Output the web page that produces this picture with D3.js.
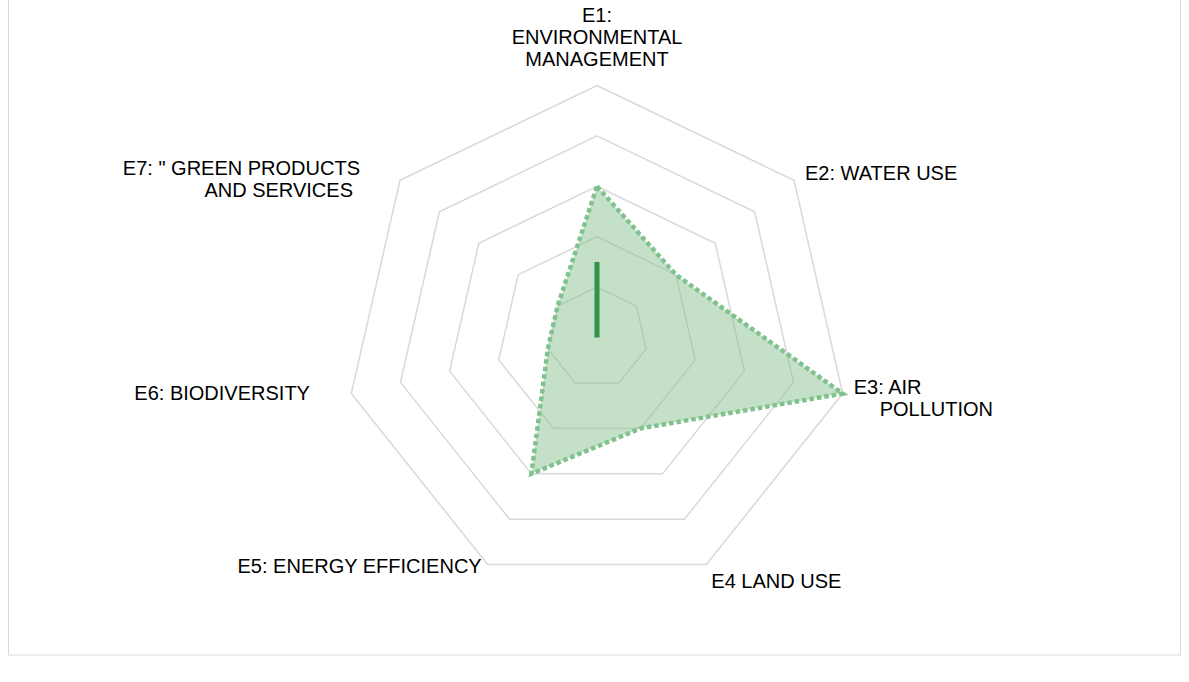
<!DOCTYPE html>
<html>
<head>
<meta charset="utf-8">
<script src="https://cdn.jsdelivr.net/npm/d3@7"></script>
<style>
  html, body { margin: 0; padding: 0; background: #fff; }
  svg { display: block; font-family: "Liberation Sans", Arial, sans-serif; }
</style>
</head>
<body>
<div class="svg-container"></div>
<script>
// categories (one entry per wrapped row of the label)
const categories = ["E1", "E2", "E3", "E4", "E5", "E6", "E7"];
const categoryLabels = [
  ["E1:", "ENVIRONMENTAL", "MANAGEMENT"],
  ["E2: WATER USE"],
  ["E3: AIR", "POLLUTION"],
  ["E4 LAND USE"],
  ["E5: ENERGY EFFICIENCY"],
  ["E6: BIODIVERSITY"],
  ["E7: \" GREEN PRODUCTS", "AND SERVICES"]
];
// series values
const scoreValues = [3, 2, 5, 2, 3, 1, 1];
const markerValues = [1.5, 0, 0, 0, 0, 0, 0];
// ring ticks
const ringTicks = [1, 2, 3, 4, 5];

const width = 1189;
const height = 682;
const center = { x: 597, y: 337.5 };
const radius = 252;
const lineGap = 22;

// label placement relative to the outer vertex: anchor, dx, dy, per-line x shift
const labelLayout = [
  { anchor: "middle", dx: 0, dy: -64, lines: [0, 0, 0] },
  { anchor: "start", dx: 11, dy: 0, lines: [0] },
  { anchor: "start", dx: 11, dy: 0, lines: [0, 26] },
  { anchor: "start", dx: 5, dy: 23, lines: [0] },
  { anchor: "end", dx: -6, dy: 8, lines: [0] },
  { anchor: "start", dx: -217, dy: 6, lines: [0] },
  { anchor: "end", dx: -40, dy: -5, lines: [0, -7] }
];

const svg = d3
  .select(".svg-container")
  .append("svg")
  .attr("width", width)
  .attr("height", height);

// chart border
svg
  .append("rect")
  .attr("x", 8.5)
  .attr("y", -10)
  .attr("width", 1172)
  .attr("height", 665)
  .attr("fill", "none")
  .attr("stroke", "#d9d9d9")
  .attr("stroke-width", 1);

const g = svg
  .append("g")
  .attr("transform", `translate(${center.x},${center.y})`);

const rScale = d3.scaleLinear().domain([0, 5]).range([0, radius]);
const angleScale = d3
  .scaleLinear()
  .domain([0, categories.length])
  .range([0, 2 * Math.PI]);

const radarLine = d3
  .lineRadial()
  .angle((d, i) => angleScale(i))
  .radius((d) => rScale(d))
  .curve(d3.curveLinearClosed);

// grid rings
g.selectAll(".ring")
  .data(ringTicks)
  .enter()
  .append("path")
  .attr("class", "ring")
  .attr("fill", "none")
  .attr("stroke", "#d9d9d9")
  .attr("stroke-width", 1.5)
  .attr("d", (t) => radarLine(categories.map(() => t)));

// main series: filled area with dotted border
g.append("path")
  .datum(scoreValues)
  .attr("fill", "#8bc191")
  .attr("fill-opacity", 0.5)
  .attr("stroke", "#80c28e")
  .attr("stroke-width", 4.5)
  .attr("stroke-dasharray", "4.5,3")
  .attr("d", radarLine);

// second series collapses to a line toward E1
g.append("path")
  .datum(markerValues)
  .attr("fill", "none")
  .attr("stroke", "#2f9446")
  .attr("stroke-width", 5)
  .attr("stroke-linejoin", "bevel")
  .attr("d", radarLine);

// category labels
const vertex = (i) => {
  const a = angleScale(i);
  return [Math.sin(a) * radius, -Math.cos(a) * radius];
};

categories.forEach((c, i) => {
  const [vx, vy] = vertex(i);
  const lay = labelLayout[i];
  const lines = categoryLabels[i];
  const text = g
    .append("text")
    .attr("text-anchor", lay.anchor)
    .attr("font-size", 20)
    .attr("fill", "#000");
  lines.forEach((ln, j) => {
    text
      .append("tspan")
      .attr("x", vx + lay.dx + lay.lines[j])
      .attr("y", vy + lay.dy + j * lineGap)
      .text(ln);
  });
});
</script>
</body>
</html>
